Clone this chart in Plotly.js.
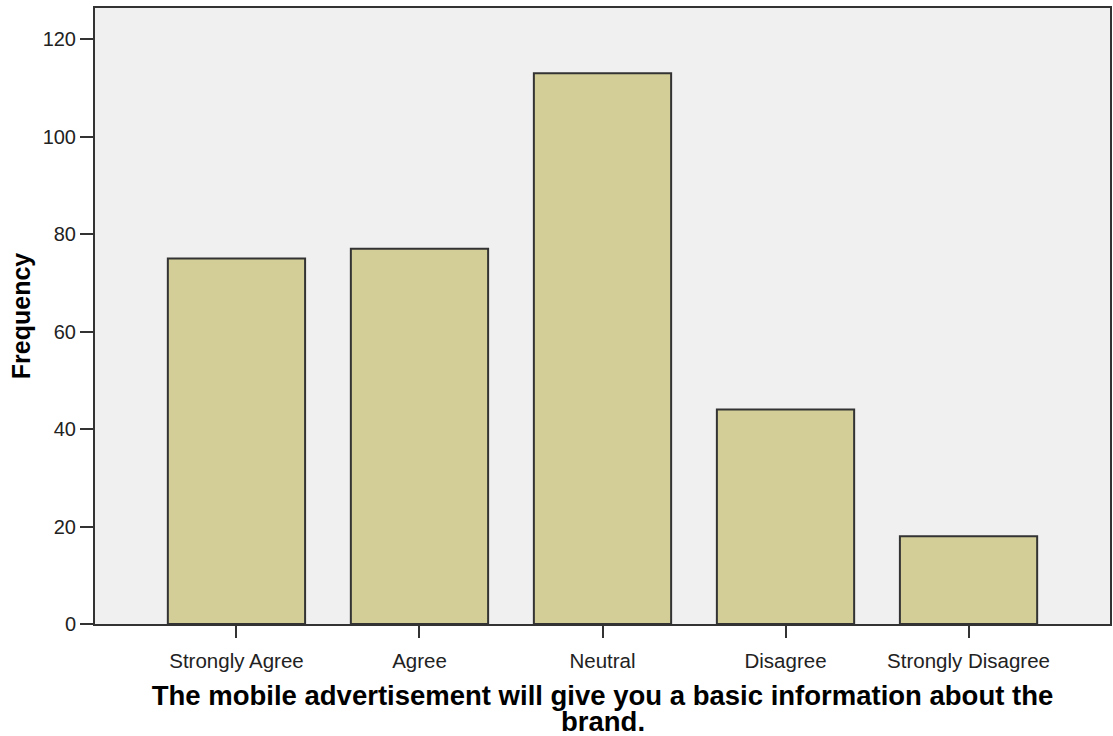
<!DOCTYPE html>
<html>
<head>
<meta charset="utf-8">
<script src="https://cdn.plot.ly/plotly-3.0.1.min.js"></script>
<style>html,body{margin:0;padding:0;background:#fff;}#chart{width:1113px;height:736px;}</style>
</head>
<body>
<div id="chart"></div>
<script>
const categories = ["Strongly Agree", "Agree", "Neutral", "Disagree", "Strongly Disagree"];
const frequencies = [75, 77, 113, 44, 18];
const yTickValues = [0, 20, 40, 60, 80, 100, 120];
const xTitleLine1 = "The mobile advertisement will give you a basic information about the";
const xTitleLine2 = "brand.";
const yTitle = "Frequency";

const trace = {
  type: "bar",
  x: categories,
  y: frequencies,
  width: 0.75,
  marker: {color: "#d3ce98", line: {color: "#333333", width: 2}},
  hoverinfo: "x+y"
};

const titleFont = {size: 27.5, family: "Liberation Sans, Arial, sans-serif", weight: "bold", color: "#000"};

const layout = {
  width: 1113, height: 736,
  margin: {l: 95, r: 3, t: 8, b: 112},
  paper_bgcolor: "#ffffff",
  plot_bgcolor: "#f0f0f0",
  showlegend: false,
  font: {family: "Liberation Sans, Arial, sans-serif", color: "#000"},
  xaxis: {
    type: "category",
    range: [-0.773, 4.773],
    showline: true, linecolor: "#333", linewidth: 2, mirror: true,
    ticks: "outside", ticklen: 12, tickwidth: 2, tickcolor: "#333",
    ticklabelstandoff: 5,
    showgrid: false, zeroline: false,
    tickfont: {size: 20.5, family: "Liberation Sans, Arial, sans-serif", color: "#222"},
    title: {text: xTitleLine1, font: titleFont, standoff: 15}
  },
  yaxis: {
    range: [0, 126.4],
    tickvals: yTickValues,
    showline: true, linecolor: "#333", linewidth: 2, mirror: true,
    ticks: "outside", ticklen: 13, tickwidth: 2, tickcolor: "#333",
    showgrid: false, zeroline: false,
    tickfont: {size: 20, family: "Liberation Sans, Arial, sans-serif", color: "#222"},
    title: {text: yTitle, font: {size: 25, family: "Liberation Sans, Arial, sans-serif", weight: "bold", color: "#000"}, standoff: 5}
  },
  annotations: [{
    text: xTitleLine2, xref: "paper", yref: "paper", x: 0.5, y: 0, yshift: -80,
    xanchor: "center", yanchor: "top", showarrow: false, font: titleFont
  }]
};

Plotly.newPlot("chart", [trace], layout, {displayModeBar: false, staticPlot: true});
</script>
</body>
</html>
